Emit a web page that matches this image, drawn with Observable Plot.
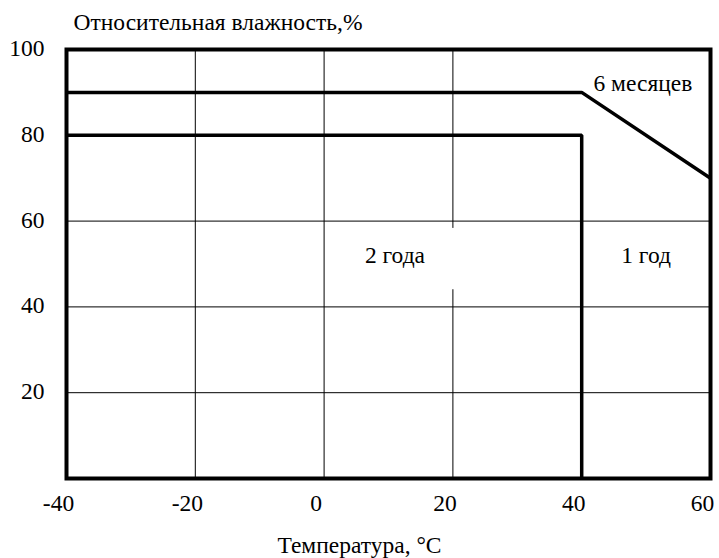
<!DOCTYPE html>
<html>
<head>
<meta charset="utf-8">
<script src="https://cdn.jsdelivr.net/npm/d3@7"></script>
<script src="https://cdn.jsdelivr.net/npm/@observablehq/plot@0.6"></script>
<style>
  html, body { margin: 0; padding: 0; background: #fff; font-family: 'Liberation Serif'; }
  #chart svg { display: block; }
</style>
</head>
<body>
<div id="chart"></div>
<script>
// ---- data ----
const xTicks = [-40, -20, 0, 20, 40, 60];
const yTicks = [20, 40, 60, 80, 100];
const xGrid = [-20, 0, 20];
const yGrid = [20, 40, 60];

// boundary "6 месяцев" (upper limit)
const limit6mX = [-40, 40, 60];
const limit6mY = [90, 90, 70];
// boundary "2 года"
const limit2yX = [-40, 40, 40];
const limit2yY = [80, 80, 0];

const zoneLabels = ["2 года", "1 год", "6 месяцев"];
const zoneLabelX = [11, 50, 49.5];
const zoneLabelY = [52, 52, 92];

// white background box behind "2 года"
const labelBox = [{x1: 4, x2: 21, y1: 44, y2: 58.3}];

const titleText = "Относительная влажность,%";
const xLabelText = "Температура, °C";

const line6m = limit6mX.map((x, i) => ({x, y: limit6mY[i]}));
const line2y = limit2yX.map((x, i) => ({x, y: limit2yY[i]}));
const labels = zoneLabels.map((t, i) => ({t, x: zoneLabelX[i], y: zoneLabelY[i]}));

const FONT = 23.5;
const FAMILY = "Liberation Serif";

const chart = Plot.plot({
  width: 719,
  height: 558,
  marginLeft: 66,
  marginRight: 9,
  marginTop: 49,
  marginBottom: 80,
  style: "font-family: 'Liberation Serif'; font-size: 23.5px; background: #fff;",
  x: {domain: [-40, 60], axis: null},
  y: {domain: [0, 100], axis: null},
  marks: [
    Plot.ruleX(xGrid, {stroke: "#000", strokeWidth: 1}),
    Plot.ruleY(yGrid, {stroke: "#000", strokeWidth: 1}),
    Plot.rect(labelBox, {x1: "x1", x2: "x2", y1: "y1", y2: "y2", fill: "#fff"}),
    Plot.line(line6m, {x: "x", y: "y", stroke: "#000", strokeWidth: 3.5, strokeLinejoin: "miter", strokeLinecap: "butt"}),
    Plot.line(line2y, {x: "x", y: "y", stroke: "#000", strokeWidth: 3.5, strokeLinejoin: "miter", strokeLinecap: "butt"}),
    Plot.frame({stroke: "#000", strokeWidth: 4}),
    Plot.text(labels, {x: "x", y: "y", text: "t", fill: "#000", fontSize: FONT, fontFamily: FAMILY, lineAnchor: "middle"}),
    Plot.text(xTicks, {x: d => d, frameAnchor: "bottom", text: d => String(d), dx: -8, dy: 25, lineAnchor: "middle", fill: "#000", fontSize: FONT, fontFamily: FAMILY}),
    Plot.text(yTicks, {y: d => d, frameAnchor: "left", text: d => String(d), textAnchor: "end", dx: -22, dy: -1, lineAnchor: "middle", fill: "#000", fontSize: FONT, fontFamily: FAMILY}),
    Plot.text([titleText], {frameAnchor: "top-left", text: d => d, textAnchor: "start", dx: 7, dy: -27, lineAnchor: "middle", fill: "#000", fontSize: FONT, fontFamily: FAMILY}),
    Plot.text([xLabelText], {frameAnchor: "bottom", text: d => d, dx: -29, dy: 67, lineAnchor: "middle", fill: "#000", fontSize: FONT, fontFamily: FAMILY})
  ]
});
document.getElementById("chart").appendChild(chart);
</script>
</body>
</html>
